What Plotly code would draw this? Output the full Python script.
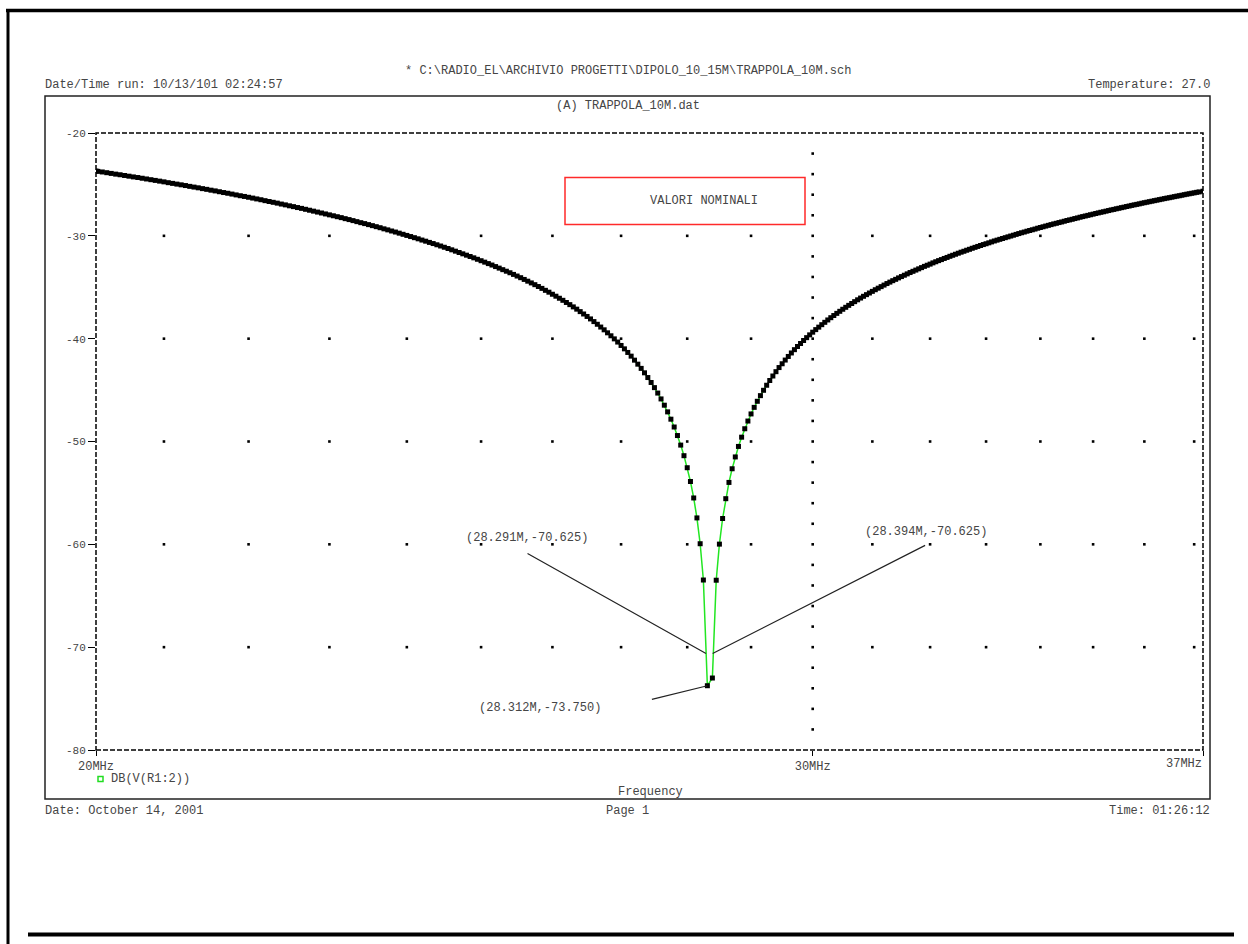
import math
import plotly.graph_objects as go

# ---------------- data ----------------
freq_mhz = [
    20.23, 20.25, 20.3, 20.35, 20.4, 20.45, 20.5, 20.55, 20.6, 20.65, 20.7, 20.75, 20.8, 20.85, 20.9, 20.95,
    21.0, 21.05, 21.1, 21.15, 21.2, 21.25, 21.3, 21.35, 21.4, 21.45, 21.5, 21.55, 21.6, 21.65, 21.7, 21.75,
    21.8, 21.85, 21.9, 21.95, 22.0, 22.05, 22.1, 22.15, 22.2, 22.25, 22.3, 22.35, 22.4, 22.45, 22.5, 22.55,
    22.6, 22.65, 22.7, 22.75, 22.8, 22.85, 22.9, 22.95, 23.0, 23.05, 23.1, 23.15, 23.2, 23.25, 23.3, 23.35,
    23.4, 23.45, 23.5, 23.55, 23.6, 23.65, 23.7, 23.75, 23.8, 23.85, 23.9, 23.95, 24.0, 24.05, 24.1, 24.15,
    24.2, 24.25, 24.3, 24.35, 24.4, 24.45, 24.5, 24.55, 24.6, 24.65, 24.7, 24.75, 24.8, 24.85, 24.9, 24.95,
    25.0, 25.05, 25.1, 25.15, 25.2, 25.25, 25.3, 25.35, 25.4, 25.45, 25.5, 25.55, 25.6, 25.65, 25.7, 25.75,
    25.8, 25.85, 25.9, 25.95, 26.0, 26.05, 26.1, 26.15, 26.2, 26.25, 26.3, 26.35, 26.4, 26.45, 26.5, 26.55,
    26.6, 26.65, 26.7, 26.75, 26.8, 26.85, 26.9, 26.95, 27.0, 27.05, 27.1, 27.15, 27.2, 27.25, 27.3, 27.35,
    27.4, 27.45, 27.5, 27.55, 27.6, 27.65, 27.7, 27.75, 27.8, 27.85, 27.9, 27.95, 28.0, 28.05, 28.1, 28.15,
    28.2, 28.25, 28.312, 28.39, 28.45, 28.5, 28.55, 28.6, 28.65, 28.7, 28.75, 28.8, 28.85, 28.9, 28.95,
    29.0, 29.05, 29.1, 29.15, 29.2, 29.25, 29.3, 29.35, 29.4, 29.45, 29.5, 29.55, 29.6, 29.65, 29.7, 29.75,
    29.8, 29.85, 29.9, 29.95, 30.0, 30.05, 30.1, 30.15, 30.2, 30.25, 30.3, 30.35, 30.4, 30.45, 30.5, 30.55,
    30.6, 30.65, 30.7, 30.75, 30.8, 30.85, 30.9, 30.95, 31.0, 31.05, 31.1, 31.15, 31.2, 31.25, 31.3, 31.35,
    31.4, 31.45, 31.5, 31.55, 31.6, 31.65, 31.7, 31.75, 31.8, 31.85, 31.9, 31.95, 32.0, 32.05, 32.1, 32.15,
    32.2, 32.25, 32.3, 32.35, 32.4, 32.45, 32.5, 32.55, 32.6, 32.65, 32.7, 32.75, 32.8, 32.85, 32.9, 32.95,
    33.0, 33.05, 33.1, 33.15, 33.2, 33.25, 33.3, 33.35, 33.4, 33.45, 33.5, 33.55, 33.6, 33.65, 33.7, 33.75,
    33.8, 33.85, 33.9, 33.95, 34.0, 34.05, 34.1, 34.15, 34.2, 34.25, 34.3, 34.35, 34.4, 34.45, 34.5, 34.55,
    34.6, 34.65, 34.7, 34.75, 34.8, 34.85, 34.9, 34.95, 35.0, 35.05, 35.1, 35.15, 35.2, 35.25, 35.3, 35.35,
    35.4, 35.45, 35.5, 35.55, 35.6, 35.65, 35.7, 35.75, 35.8, 35.85, 35.9, 35.95, 36.0, 36.05, 36.1, 36.15,
    36.2, 36.25, 36.3, 36.35, 36.4, 36.45, 36.5, 36.55, 36.6, 36.65, 36.7, 36.75, 36.8, 36.85, 36.9, 36.95,
    37.0, 37.05, 37.1, 37.18,
]

db_values = [
    -23.70, -23.73, -23.79, -23.86, -23.93, -24.00, -24.06, -24.13, -24.20, -24.27, -24.33, -24.40, -24.47, -24.54, -24.61, -24.68,
    -24.75, -24.83, -24.90, -24.97, -25.04, -25.11, -25.19, -25.26, -25.33, -25.41, -25.48, -25.56, -25.63, -25.71, -25.79, -25.86,
    -25.94, -26.02, -26.10, -26.17, -26.25, -26.33, -26.41, -26.49, -26.58, -26.66, -26.74, -26.82, -26.91, -26.99, -27.08, -27.16,
    -27.25, -27.33, -27.42, -27.51, -27.60, -27.69, -27.78, -27.87, -27.96, -28.05, -28.14, -28.23, -28.33, -28.42, -28.52, -28.62,
    -28.72, -28.81, -28.91, -29.01, -29.11, -29.21, -29.32, -29.42, -29.53, -29.63, -29.74, -29.85, -29.96, -30.07, -30.18, -30.29,
    -30.41, -30.52, -30.64, -30.75, -30.87, -30.99, -31.11, -31.23, -31.36, -31.49, -31.62, -31.75, -31.88, -32.01, -32.14, -32.28,
    -32.42, -32.56, -32.70, -32.84, -32.99, -33.14, -33.29, -33.44, -33.59, -33.75, -33.91, -34.07, -34.24, -34.41, -34.58, -34.75,
    -34.93, -35.11, -35.30, -35.48, -35.68, -35.87, -36.07, -36.27, -36.48, -36.69, -36.91, -37.13, -37.37, -37.60, -37.84, -38.08,
    -38.34, -38.60, -38.87, -39.14, -39.43, -39.72, -40.02, -40.33, -40.66, -40.99, -41.34, -41.70, -42.09, -42.48, -42.89, -43.32,
    -43.78, -44.26, -44.76, -45.29, -45.86, -46.47, -47.12, -47.83, -48.59, -49.42, -50.35, -51.38, -52.55, -53.89, -55.49, -57.43,
    -59.94, -63.47, -73.75, -73.00, -63.49, -59.98, -57.49, -55.56, -53.98, -52.65, -51.50, -50.48, -49.58, -48.76, -48.01,
    -47.32, -46.68, -46.09, -45.54, -45.02, -44.53, -44.07, -43.63, -43.21, -42.81, -42.44, -42.08, -41.73, -41.39, -41.07, -40.76,
    -40.47, -40.18, -39.90, -39.63, -39.37, -39.12, -38.88, -38.64, -38.41, -38.18, -37.96, -37.75, -37.54, -37.34, -37.14, -36.95,
    -36.76, -36.58, -36.40, -36.22, -36.05, -35.88, -35.72, -35.56, -35.40, -35.24, -35.09, -34.94, -34.79, -34.64, -34.50, -34.36,
    -34.23, -34.09, -33.96, -33.83, -33.70, -33.57, -33.45, -33.33, -33.21, -33.09, -32.97, -32.86, -32.75, -32.63, -32.52, -32.41,
    -32.31, -32.20, -32.10, -31.99, -31.89, -31.79, -31.69, -31.59, -31.50, -31.40, -31.31, -31.21, -31.12, -31.03, -30.94, -30.85,
    -30.77, -30.68, -30.59, -30.50, -30.42, -30.34, -30.26, -30.18, -30.10, -30.02, -29.94, -29.86, -29.78, -29.70, -29.63, -29.55,
    -29.48, -29.41, -29.34, -29.26, -29.19, -29.12, -29.05, -28.98, -28.91, -28.84, -28.78, -28.71, -28.65, -28.58, -28.51, -28.45,
    -28.39, -28.32, -28.26, -28.19, -28.13, -28.07, -28.01, -27.95, -27.89, -27.83, -27.77, -27.71, -27.66, -27.60, -27.54, -27.48,
    -27.43, -27.37, -27.32, -27.26, -27.21, -27.15, -27.10, -27.04, -26.99, -26.94, -26.89, -26.83, -26.78, -26.73, -26.68, -26.63,
    -26.58, -26.53, -26.48, -26.43, -26.38, -26.33, -26.29, -26.24, -26.19, -26.14, -26.10, -26.05, -26.00, -25.95, -25.91, -25.86,
    -25.82, -25.77, -25.73, -25.66,
]

x_start_mhz = 20.23
x_end_mhz = 37.18
x_tick_mhz = [x_start_mhz, 30, x_end_mhz]
x_tick_text = ["20MHz", "30MHz", ""]
x_end_label = "37MHz"

y_range_db = [-80, -20]
y_tick_db = [-20, -30, -40, -50, -60, -70, -80]
y_tick_text = ["-20", "-30", "-40", "-50", "-60", "-70", "-80"]

grid_minor_mhz = [21, 22, 23, 24, 25, 26, 27, 28, 29, 31, 32, 33, 34, 35, 36, 37]
grid_major_db = [-30, -40, -50, -60, -70]
grid_major_mhz = [30]
grid_fine_db = [-78, -76, -74, -72, -70, -68, -66, -64, -62, -60, -58, -56, -54, -52, -50,
                -48, -46, -44, -42, -40, -38, -36, -34, -32, -30, -28, -26, -24, -22]

cursor_f = [28.291, 28.394, 28.312]
cursor_db = [-70.625, -70.625, -73.750]

series_name = "DB(V(R1:2))"
file_path = r"* C:\RADIO_EL\ARCHIVIO PROGETTI\DIPOLO_10_15M\TRAPPOLA_10M.sch"
run_text = "Date/Time run: 10/13/101 02:24:57"
temp_text = "Temperature: 27.0"
dat_text = "(A) TRAPPOLA_10M.dat"
box_text = "VALORI NOMINALI"
x_title = "Frequency"
date_text = "Date: October 14, 2001"
page_text = "Page 1"
time_text = "Time: 01:26:12"

# ---------------- layout geometry (pixels) ----------------
L, T, W, H = 96, 133, 1107, 617
FONT = "Liberation Mono, Courier New, monospace"
TXT = "#454545"


def px(x):
    return (x - L) / W


def py(y):
    return (T + H - y) / H


# grid dots
gx, gy = [], []
for d in grid_major_db:
    for f in grid_minor_mhz:
        gx.append(f)
        gy.append(d)
for f in grid_major_mhz:
    for d in grid_fine_db:
        gx.append(f)
        gy.append(d)

fig = go.Figure()
fig.add_trace(go.Scatter(
    x=gx, y=gy, mode="markers",
    marker=dict(symbol="square", size=2.6, color="black", line=dict(width=0)),
    hoverinfo="skip", showlegend=False,
))
fig.add_trace(go.Scatter(
    x=freq_mhz, y=db_values, mode="lines+markers", name=series_name,
    line=dict(color="#22e622", width=1.5),
    marker=dict(symbol="square", size=5, color="black", line=dict(width=0)),
    showlegend=False,
))

shapes = [
    # outer heavy page lines
    dict(type="line", xref="paper", yref="paper", x0=px(6), x1=px(1248), y0=py(10.5), y1=py(10.5),
         line=dict(color="black", width=3.5)),
    dict(type="line", xref="paper", yref="paper", x0=px(8), x1=px(8), y0=py(9), y1=py(944),
         line=dict(color="black", width=3)),
    dict(type="line", xref="paper", yref="paper", x0=px(28), x1=px(1234), y0=py(934.5), y1=py(934.5),
         line=dict(color="black", width=4)),
    # inner page frame
    dict(type="rect", xref="paper", yref="paper", x0=px(45), x1=px(1210), y0=py(799), y1=py(96),
         line=dict(color="#222222", width=1.5)),
    # dashed plot border
    dict(type="rect", xref="paper", yref="paper", x0=0, x1=1, y0=0, y1=1,
         line=dict(color="black", width=1.5, dash="5px,2px"), layer="below"),
    # red label box
    dict(type="rect", xref="paper", yref="paper", x0=px(565), x1=px(805), y0=py(224.5), y1=py(177.5),
         line=dict(color="#ff2a2a", width=1.5)),
    # legend symbol
    dict(type="rect", xref="paper", yref="paper", x0=px(98), x1=px(103), y0=py(781.5), y1=py(776.5),
         line=dict(color="#22dd22", width=1.5)),
]


def ptxt(x, y, s, xa="center", size=12):
    return dict(xref="paper", yref="paper", x=px(x), y=py(y), text=s, showarrow=False,
                xanchor=xa, yanchor="middle", font=dict(size=size, color=TXT, family=FONT))


annotations = [
    ptxt(627.5, 71, file_path),
    ptxt(43, 85, run_text, "left"),
    ptxt(1212, 85, temp_text, "right"),
    ptxt(628, 106, dat_text),
    ptxt(704, 201, box_text),
    ptxt(1204, 764, x_end_label, "right"),
    ptxt(109, 779, series_name, "left"),
    ptxt(650, 792, x_title),
    ptxt(43, 811, date_text, "left"),
    ptxt(627, 811, page_text),
    ptxt(1212, 811, time_text, "right"),
]

# cursor leader lines (tail offsets in px) and label offsets
leader_offsets = [(-180, -101), (214, -109), (-57, 14)]
label_offsets = [(-179, 116), (213, 122), (-167, -22)]
for f, d, (ax, ay), (lx, ly) in zip(cursor_f, cursor_db, leader_offsets, label_offsets):
    annotations.append(dict(
        x=math.log10(f), y=d, xref="x", yref="y", ax=ax, ay=ay, axref="pixel", ayref="pixel",
        text="", showarrow=True, arrowhead=0, arrowwidth=1.2, arrowcolor="#222222", standoff=0,
    ))
    annotations.append(dict(
        x=math.log10(f), y=d, xref="x", yref="y", xshift=lx, yshift=ly,
        text=f"({f:.3f}M,{d:.3f})", showarrow=False, xanchor="center", yanchor="middle",
        font=dict(size=12, color=TXT, family=FONT),
    ))

fig.update_layout(
    width=1248, height=944, autosize=False,
    margin=dict(l=L, r=1248 - L - W, t=T, b=944 - T - H, pad=0),
    paper_bgcolor="white", plot_bgcolor="white",
    font=dict(family=FONT, size=12, color=TXT),
    showlegend=False,
    shapes=shapes,
    annotations=annotations,
    xaxis=dict(
        type="log", range=[math.log10(x_start_mhz), math.log10(x_end_mhz)],
        tickmode="array", tickvals=x_tick_mhz, ticktext=x_tick_text,
        ticks="outside", ticklen=5, tickwidth=1.2, tickcolor="black",
        showgrid=False, zeroline=False, showline=False,
        tickfont=dict(size=12, color=TXT, family=FONT),
    ),
    yaxis=dict(
        range=y_range_db, tickmode="array", tickvals=y_tick_db, ticktext=y_tick_text,
        ticks="outside", ticklen=7, tickwidth=1.2, tickcolor="black",
        showgrid=False, zeroline=False, showline=False,
        tickfont=dict(size=11, color=TXT, family=FONT),
    ),
)

fig.write_html(
    "out.html",
    config={"displayModeBar": False},
    post_script="document.body.style.margin='0px';document.body.style.overflow='hidden';",
)
